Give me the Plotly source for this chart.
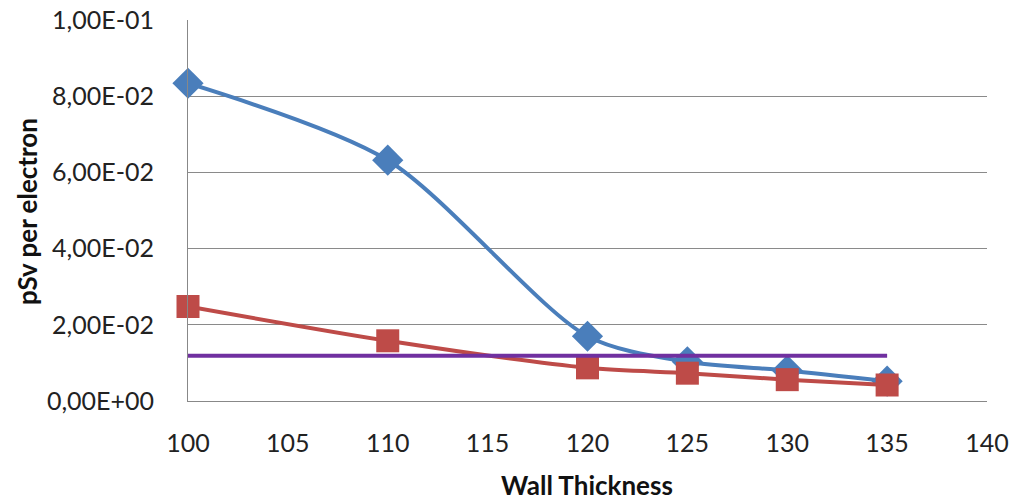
import plotly.graph_objects as go

thickness = [100, 110, 120, 125, 130, 135]
series_blue = [0.0834, 0.0632, 0.0170, 0.0103, 0.0080, 0.0052]
series_red = [0.0248, 0.0158, 0.0087, 0.0073, 0.0056, 0.0042]
limit_x = [100, 135]
limit_y = [0.0119, 0.0119]

y_ticks = [0, 0.02, 0.04, 0.06, 0.08, 0.10]
y_labels = ["0,00E+00", "2,00E-02", "4,00E-02", "6,00E-02", "8,00E-02", "1,00E-01"]
x_ticks = [100, 105, 110, 115, 120, 125, 130, 135, 140]

fig = go.Figure()
fig.add_trace(go.Scatter(x=thickness, y=series_blue, mode="lines+markers", cliponaxis=False,
                         line=dict(color="#4A7EBB", width=4, shape="spline", smoothing=0.8),
                         marker=dict(symbol="diamond", size=24, color="#4A7EBB")))
fig.add_trace(go.Scatter(x=thickness, y=series_red, mode="lines+markers", cliponaxis=False,
                         line=dict(color="#BE4B48", width=4, shape="spline", smoothing=0.8),
                         marker=dict(symbol="square", size=23, color="#BE4B48")))
fig.add_trace(go.Scatter(x=limit_x, y=limit_y, mode="lines", cliponaxis=False,
                         line=dict(color="#7030A0", width=4)))

fig.update_layout(
    width=1013, height=502,
    margin=dict(l=188, r=26, t=20, b=101),
    paper_bgcolor="white", plot_bgcolor="white",
    showlegend=False,
    font=dict(family="Lato, Calibri, sans-serif", size=25, color="#222"),
    annotations=[
        dict(text="<b>Wall Thickness</b>", xref="paper", yref="paper", x=0.4995, y=-0.22,
             showarrow=False, xanchor="center", yanchor="middle", font=dict(size=26, color="#111")),
        dict(text="<b>pSv per electron</b>", xref="paper", yref="paper", x=-0.2015, y=0.496,
             showarrow=False, xanchor="center", yanchor="middle", textangle=-90,
             font=dict(size=26, color="#111")),
    ],
)
fig.update_xaxes(range=[100, 140], tickvals=x_ticks, showgrid=False, automargin=False,
                 showline=True, linecolor="#888", linewidth=1, ticks="",
                 ticklabeloverflow="allow",
                 ticklabelstandoff=20, tickfont=dict(size=25), zeroline=False)
fig.update_yaxes(range=[0, 0.1], tickvals=y_ticks, ticktext=y_labels, automargin=False,
                 showgrid=True, gridcolor="#8a8a8a", gridwidth=1,
                 showline=True, linecolor="#888", linewidth=1, ticks="",
                 ticklabeloverflow="allow",
                 ticklabelstandoff=28, tickfont=dict(size=25), zeroline=False)

fig.write_html("out.html", config={"displayModeBar": False},
               post_script="document.body.style.margin='0px';")
